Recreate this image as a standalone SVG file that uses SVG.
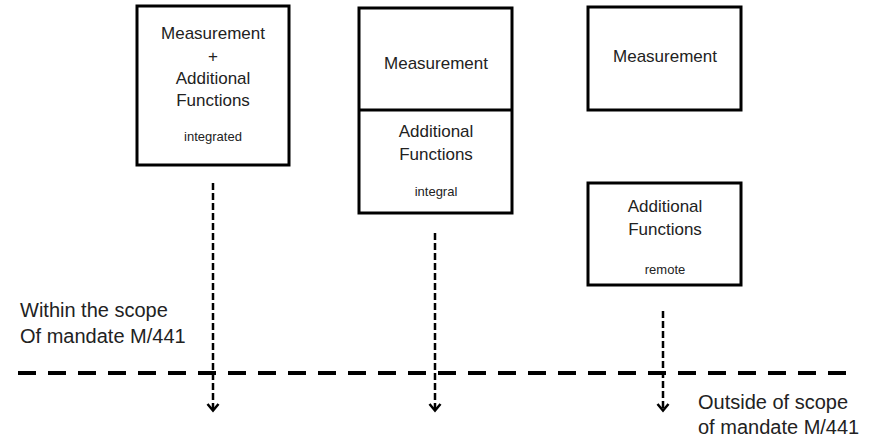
<svg xmlns="http://www.w3.org/2000/svg" width="875" height="439" viewBox="0 0 875 439">
<style>
.box{fill:#fff;stroke:#000;stroke-width:3}
.t{font-family:"Liberation Sans",Arial,sans-serif;font-size:17px;fill:#222;text-anchor:middle}
.s{font-family:"Liberation Sans",Arial,sans-serif;font-size:13px;fill:#222;text-anchor:middle}
.l{font-family:"Liberation Sans",Arial,sans-serif;font-size:20px;fill:#222}
.v{stroke:#000;stroke-width:2.5;stroke-dasharray:7 3;fill:none}
.h{stroke:#000;stroke-width:4;stroke-dasharray:18 12;fill:none}
</style>
<defs>
<marker id="arr" viewBox="0 0 14 14" refX="10" refY="7" markerWidth="14" markerHeight="14" markerUnits="userSpaceOnUse" orient="auto">
<path d="M3,1.5 L9.5,7 L3,12.5" fill="none" stroke="#000" stroke-width="2.5"/>
</marker>
</defs>
<rect width="875" height="439" fill="#fff"/>
<g id="node-integrated">
<rect class="box" x="137" y="6" width="152" height="159"/>
<text class="t" x="213" y="39">Measurement</text>
<text class="t" x="213" y="62">+</text>
<text class="t" x="213" y="84">Additional</text>
<text class="t" x="213" y="106">Functions</text>
<text class="s" x="213" y="141">integrated</text>
</g>
<g id="node-integral">
<rect class="box" x="359" y="8" width="153" height="205"/>
<line x1="359" y1="110" x2="512" y2="110" stroke="#000" stroke-width="3"/>
<text class="t" x="436" y="69">Measurement</text>
<text class="t" x="436" y="137">Additional</text>
<text class="t" x="436" y="160">Functions</text>
<text class="s" x="436" y="196">integral</text>
</g>
<g id="node-measurement-remote">
<rect class="box" x="588" y="7" width="153" height="103"/>
<text class="t" x="665" y="62">Measurement</text>
</g>
<g id="node-additional-remote">
<rect class="box" x="588" y="183" width="153" height="102"/>
<text class="t" x="665" y="212">Additional</text>
<text class="t" x="665" y="235">Functions</text>
<text class="s" x="665" y="274">remote</text>
</g>
<g id="connectors">
<line class="h" x1="18" y1="373" x2="850" y2="373"/>
<line class="v" x1="213" y1="183" x2="213" y2="411" marker-end="url(#arr)"/>
<line class="v" x1="435" y1="233" x2="435" y2="411" marker-end="url(#arr)"/>
<line class="v" x1="663" y1="311" x2="663" y2="411" marker-end="url(#arr)"/>
</g>
<g id="labels">
<text class="l" x="20" y="317">Within the scope</text>
<text class="l" x="20" y="343">Of mandate M/441</text>
<text class="l" x="698" y="409">Outside of scope</text>
<text class="l" x="698" y="434">of mandate M/441</text>
</g>
</svg>
